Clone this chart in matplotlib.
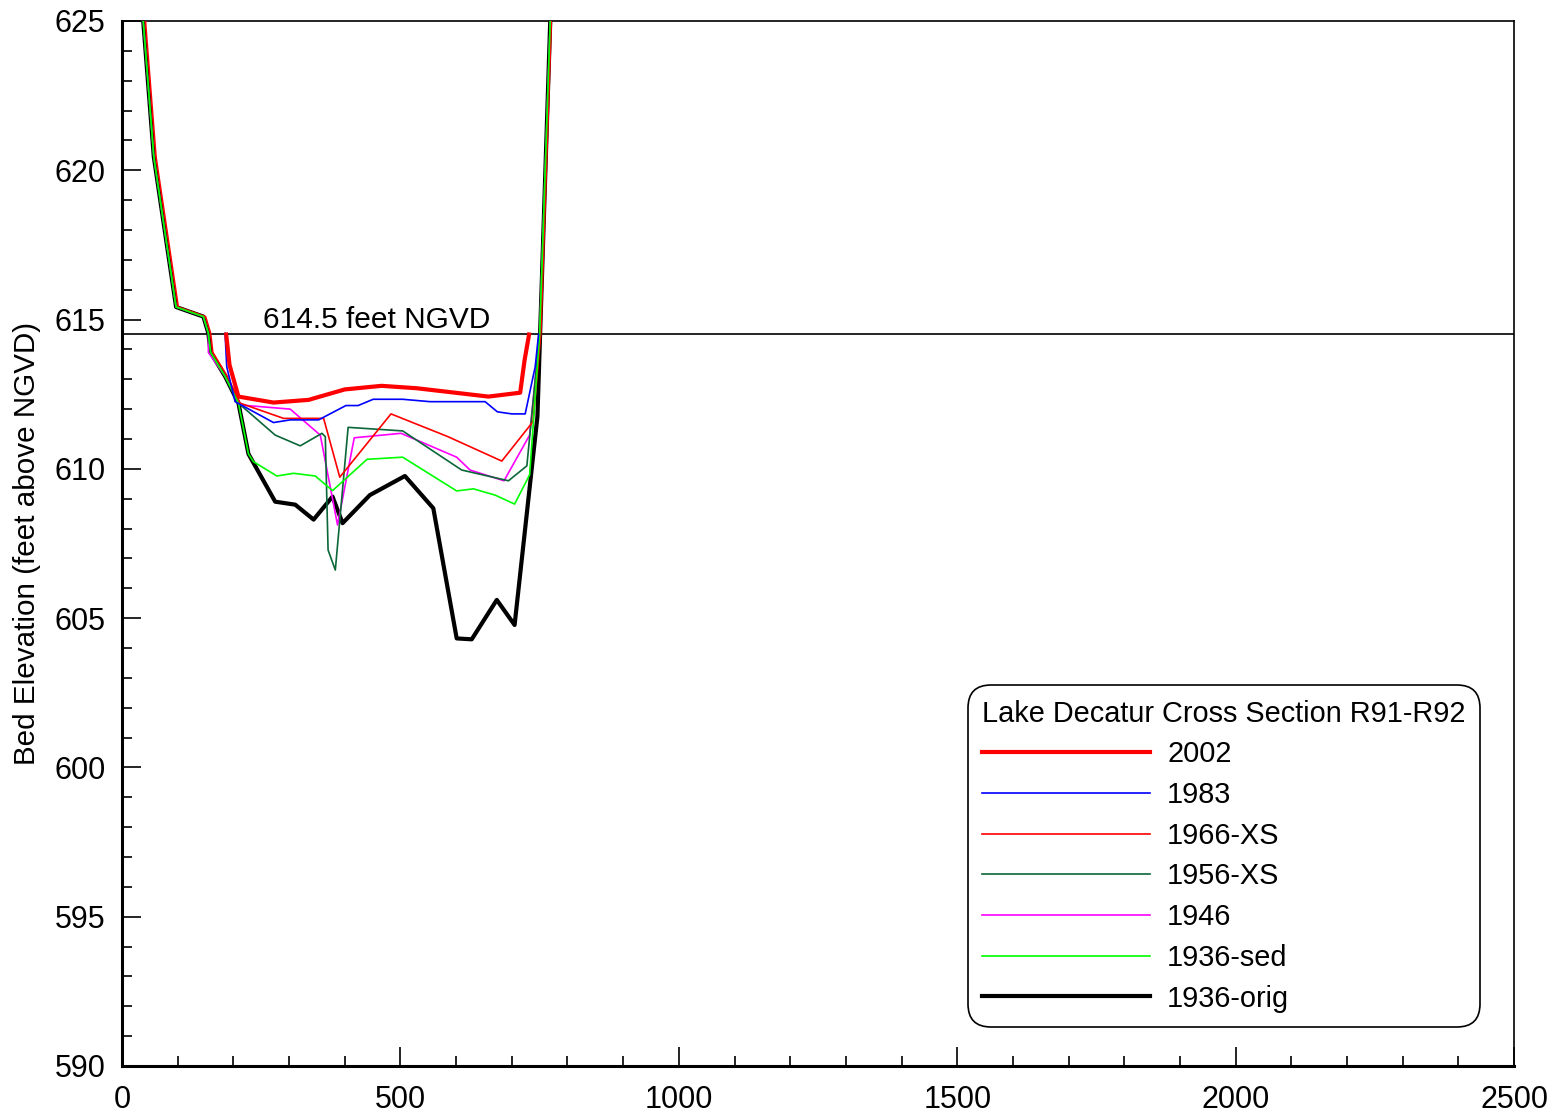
import matplotlib.pyplot as plt
from matplotlib.ticker import MultipleLocator

plt.rcParams['font.family'] = ['Liberation Sans', 'DejaVu Sans']

# cross section R91-R92, station (ft) vs bed elevation (ft NGVD)
x_2002 = [187, 193, 209, 272, 335, 400, 466, 529, 658, 715, 723, 731]
y_2002 = [614.5, 613.48, 612.42, 612.22, 612.31, 612.66, 612.78, 612.7, 612.42, 612.55, 613.65, 614.5]

x_1983 = [185, 188, 203, 272, 302, 353, 402, 424, 451, 504, 553, 652, 674, 700, 724, 742, 748]
y_1983 = [614.54, 613.42, 612.25, 611.55, 611.64, 611.64, 612.12, 612.12, 612.33, 612.33,
          612.25, 612.25, 611.91, 611.84, 611.84, 613.42, 614.5]

x_1966 = [42, 61, 101, 150, 159, 163, 189, 212, 290, 362, 391, 483, 585, 682, 738, 752, 771]
y_1966 = [625, 620.45, 615.42, 615.1, 614.54, 613.9, 613.1, 612.2, 611.69, 611.69, 609.72,
          611.84, 611.08, 610.26, 611.58, 614.5, 625]

x_1956 = [38, 57, 97, 146, 155, 159, 185, 209, 275, 320, 359, 365, 370, 383, 406, 504, 610,
          694, 727, 750, 769]
y_1956 = [625, 620.45, 615.42, 615.1, 614.54, 613.9, 613.1, 612.2, 611.13, 610.77, 611.19,
          611.08, 607.28, 606.61, 611.39, 611.27, 609.96, 609.6, 610.1, 614.5, 625]

x_1946 = [38, 57, 97, 146, 155, 155, 185, 212, 302, 356, 387, 417, 501, 601, 625, 686, 732,
          750, 769]
y_1946 = [625, 620.45, 615.42, 615.1, 614.54, 613.9, 613.1, 612.14, 612.0, 611.13, 608.12,
          611.04, 611.19, 610.39, 609.96, 609.6, 611.13, 614.5, 625]

x_1936s = [38, 57, 97, 146, 155, 159, 185, 209, 227, 236, 278, 308, 347, 378, 440, 504, 601,
           631, 670, 705, 732, 750, 769]
y_1936s = [625, 620.45, 615.42, 615.1, 614.54, 613.9, 613.1, 612.2, 610.5, 610.24, 609.76,
           609.85, 609.76, 609.27, 610.32, 610.39, 609.26, 609.33, 609.12, 608.82, 609.8,
           614.5, 625]

x_1936o = [38, 57, 97, 146, 155, 159, 185, 209, 227, 275, 311, 344, 378, 396, 445, 508, 559,
           601, 628, 673, 705, 746, 769]
y_1936o = [625, 620.45, 615.42, 615.1, 614.54, 613.9, 613.1, 612.2, 610.5, 608.9, 608.8,
           608.3, 609.07, 608.18, 609.12, 609.76, 608.68, 604.32, 604.29, 605.61, 604.77,
           611.75, 625]

pool_level = 614.5

fig = plt.figure(figsize=(15.57, 11.17), dpi=100)
ax = fig.add_axes([0.0784, 0.0457, 0.8940, 0.9355])

ax.axhline(pool_level, color='black', lw=1.2, zorder=1)
ax.text(253, pool_level + 0.03, '614.5 feet NGVD', fontsize=21.5, va='bottom', ha='left')

l_2002, = ax.plot(x_2002, y_2002, color='#ff0000', lw=3.0, zorder=9, label='2002')
l_1983, = ax.plot(x_1983, y_1983, color='#0000ff', lw=1.2, zorder=8, label='1983')
l_1966, = ax.plot(x_1966, y_1966, color='#ff0000', lw=1.2, zorder=5, label='1966-XS')
l_1956, = ax.plot(x_1956, y_1956, color='#0b6638', lw=1.2, zorder=4, label='1956-XS')
l_1946, = ax.plot(x_1946, y_1946, color='#ff00ff', lw=1.2, zorder=3, label='1946')
l_1936s, = ax.plot(x_1936s, y_1936s, color='#00ff00', lw=1.2, zorder=6, label='1936-sed')
l_1936o, = ax.plot(x_1936o, y_1936o, color='black', lw=3.0, zorder=2, label='1936-orig')

ax.set_xlim(0, 2500)
ax.set_ylim(590, 625)
ax.xaxis.set_major_locator(MultipleLocator(500))
ax.xaxis.set_minor_locator(MultipleLocator(100))
ax.yaxis.set_major_locator(MultipleLocator(5))
ax.yaxis.set_minor_locator(MultipleLocator(1))

ax.tick_params(which='both', direction='in', top=False, right=False, labelsize=22, width=1.2)
ax.tick_params(which='major', length=13.5)
ax.tick_params(which='minor', length=7)
ax.tick_params(axis='y', pad=12)
ax.tick_params(axis='x', pad=14)

ax.spines['left'].set_linewidth(2.2)
ax.spines['bottom'].set_linewidth(2.2)
ax.spines['top'].set_linewidth(1.2)
ax.spines['right'].set_linewidth(1.2)

ax.set_ylabel('Bed Elevation (feet above NGVD)', fontsize=21.3)
ax.yaxis.set_label_coords(-0.058, 0.5)

handles = [l_2002, l_1983, l_1966, l_1956, l_1946, l_1936s, l_1936o]
leg = ax.legend(handles=handles, loc='lower right', bbox_to_anchor=(0.9756, 0.0373),
                borderaxespad=0, fontsize=20.8, title='Lake Decatur Cross Section R91-R92',
                title_fontsize=20.8, alignment='left', handlelength=5.8, handletextpad=0.6,
                labelspacing=0.44, borderpad=0.5, fancybox=True, framealpha=1,
                edgecolor='black')
leg.get_frame().set_linewidth(1.2)
leg.get_frame().set_boxstyle('round,pad=0,rounding_size=0.8')
leg.set_zorder(20)

fig.savefig('out.png', dpi=100)
